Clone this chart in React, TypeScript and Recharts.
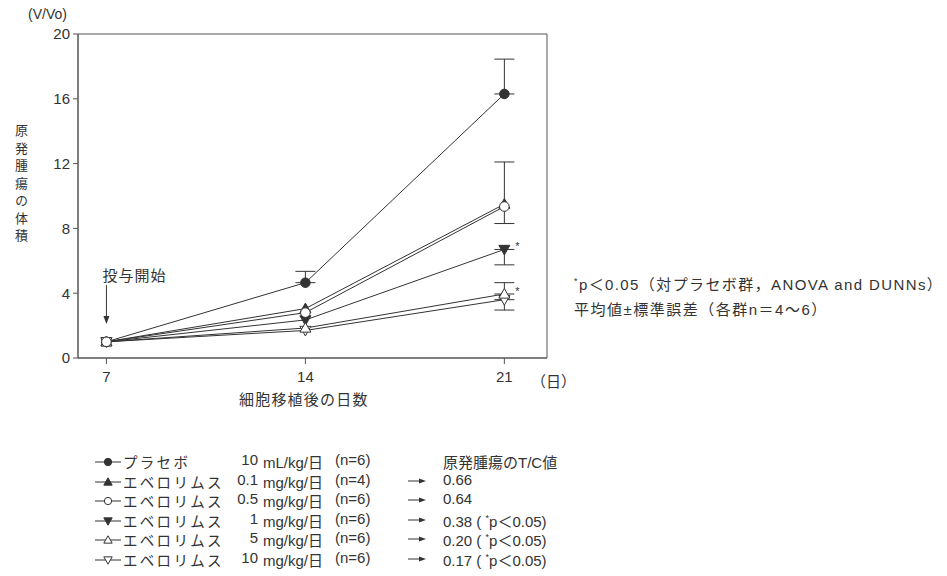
import React from "react";
import { LineChart, Line, XAxis, YAxis, ErrorBar, ReferenceArea, ReferenceLine, ReferenceDot } from "recharts";

const days = [7, 14, 21];
const placebo = [1.0, 4.65, 16.3];
const ever01 = [1.0, 3.05, 9.5];
const ever05 = [1.0, 2.8, 9.35];
const ever1 = [1.0, 2.35, 6.7];
const ever5 = [1.0, 1.85, 3.95];
const ever10 = [1.0, 1.7, 3.6];

// [下側, 上側]
const placeboErr = [undefined, [0, 0.7], [0, 2.15]];
const ever05Err = [undefined, undefined, [1.05, 2.75]];
const ever1Err = [undefined, undefined, [0.95, 0]];
const ever5Err = [undefined, undefined, [0, 0.7]];
const ever10Err = [undefined, undefined, [0.64, 0]];

const yTicks = [0, 4, 8, 12, 16, 20];
const xTicks = [7, 14, 21];

const legendNames = ["プラセボ", "エベロリムス", "エベロリムス", "エベロリムス", "エベロリムス", "エベロリムス"];
const legendAmounts = ["10", "0.1", "0.5", "1", "5", "10"];
const legendUnits = ["mL/kg/日", "mg/kg/日", "mg/kg/日", "mg/kg/日", "mg/kg/日", "mg/kg/日"];
const legendN = ["(n=6)", "(n=4)", "(n=6)", "(n=6)", "(n=6)", "(n=6)"];
const legendTC = ["", "0.66", "0.64", "0.38", "0.20", "0.17"];
const legendSig = [false, false, false, true, true, true];
const legendShapes = ["filledCircle", "filledUp", "openCircle", "filledDown", "openUp", "openDown"];

const data = days.map((d, i) => ({
  day: d,
  placebo: placebo[i], placeboErr: placeboErr[i],
  ever01: ever01[i],
  ever05: ever05[i], ever05Err: ever05Err[i],
  ever1: ever1[i], ever1Err: ever1Err[i],
  ever5: ever5[i], ever5Err: ever5Err[i],
  ever10: ever10[i], ever10Err: ever10Err[i],
}));

const INK = "#333";
const FONT = "'Liberation Sans', 'Noto Sans CJK JP', sans-serif";

function Marker({ cx, cy, shape, s = 5.5 }: { cx: number; cy: number; shape: string; s?: number }) {
  const filled = shape.startsWith("filled");
  const fill = filled ? INK : "#fff";
  if (shape.endsWith("Circle")) {
    return <circle cx={cx} cy={cy} r={s * 0.87} fill={fill} stroke={INK} strokeWidth={1} />;
  }
  const pts = shape.endsWith("Up")
    ? `${cx},${cy - s} ${cx - s},${cy + s * 0.75} ${cx + s},${cy + s * 0.75}`
    : `${cx},${cy + s} ${cx - s},${cy - s * 0.75} ${cx + s},${cy - s * 0.75}`;
  return <polygon points={pts} fill={fill} stroke={INK} strokeWidth={1} />;
}

const dotFor = (shape: string) => (p: any) => (
  <Marker key={`${shape}-${p.index}`} cx={p.cx} cy={p.cy} shape={shape} />
);

function LegendIcon({ shape }: { shape: string }) {
  return (
    <svg width={26} height={14} style={{ display: "block" }}>
      <line x1={0} y1={7} x2={26} y2={7} stroke={INK} strokeWidth={1} />
      <Marker cx={13} cy={7} shape={shape} s={4.2} />
    </svg>
  );
}

function Arrow() {
  return (
    <svg width={18} height={10} style={{ display: "block" }}>
      <line x1={0} y1={5} x2={12} y2={5} stroke={INK} strokeWidth={1} />
      <polygon points="18,5 11,2.5 11,7.5" fill={INK} />
    </svg>
  );
}

const abs = (left: number, top: number, extra: React.CSSProperties = {}): React.CSSProperties => ({
  position: "absolute", left, top, whiteSpace: "nowrap", ...extra,
});

export default function App() {
  return (
    <div style={{ position: "absolute", left: 0, top: 0, width: 947, height: 576, background: "#fff", fontFamily: FONT, color: INK }}>
      <div style={{ position: "absolute", left: 0, top: 0 }}>
        <LineChart width={600} height={420} data={data} margin={{ top: 34, right: 53, bottom: 32, left: 0 }}>
          <ReferenceArea x1={6} x2={22.5} y1={0} y2={20} fill="none" stroke="#555" strokeWidth={1} />
          <XAxis dataKey="day" type="number" domain={[6, 22.5]} ticks={xTicks} height={30}
            tickSize={6} tickMargin={7} stroke="#555"
            tick={{ fontSize: 15, fill: INK, fontFamily: FONT }} />
          <YAxis domain={[0, 20]} ticks={yTicks} width={78} tickSize={5} tickMargin={3} stroke="#555"
            tick={{ fontSize: 15, fill: INK, fontFamily: FONT }} />
          <ReferenceLine segment={[{ x: 7, y: 4.5 }, { x: 7, y: 2.1 }]}
            shape={(p: any) => (
              <g>
                <line x1={p.x1} y1={p.y1} x2={p.x2} y2={p.y2 - 6} stroke={INK} strokeWidth={1} />
                <polygon points={`${p.x2},${p.y2} ${p.x2 - 3},${p.y2 - 8} ${p.x2 + 3},${p.y2 - 8}`} fill={INK} />
                <text x={p.x1 - 4} y={p.y1 - 4} fontSize={15} fill={INK} fontFamily={FONT} letterSpacing={1}>投与開始</text>
              </g>
            )} />
          <Line dataKey="placebo" stroke={INK} strokeWidth={1} dot={dotFor("filledCircle")} isAnimationActive={false}>
            <ErrorBar dataKey="placeboErr" direction="y" width={10} stroke={INK} strokeWidth={1} />
          </Line>
          <Line dataKey="ever01" stroke={INK} strokeWidth={1} dot={dotFor("filledUp")} isAnimationActive={false} />
          <Line dataKey="ever1" stroke={INK} strokeWidth={1} dot={dotFor("filledDown")} isAnimationActive={false}>
            <ErrorBar dataKey="ever1Err" direction="y" width={10} stroke={INK} strokeWidth={1} />
          </Line>
          <Line dataKey="ever10" stroke={INK} strokeWidth={1} dot={dotFor("openDown")} isAnimationActive={false}>
            <ErrorBar dataKey="ever10Err" direction="y" width={10} stroke={INK} strokeWidth={1} />
          </Line>
          <Line dataKey="ever5" stroke={INK} strokeWidth={1} dot={dotFor("openUp")} isAnimationActive={false}>
            <ErrorBar dataKey="ever5Err" direction="y" width={10} stroke={INK} strokeWidth={1} />
          </Line>
          <Line dataKey="ever05" stroke={INK} strokeWidth={1} dot={dotFor("openCircle")} isAnimationActive={false}>
            <ErrorBar dataKey="ever05Err" direction="y" width={10} stroke={INK} strokeWidth={1} />
          </Line>
          <ReferenceDot x={21} y={ever1[2]} r={0}
            shape={(p: any) => <text x={p.cx + 11} y={p.cy + 1} fontSize={11} fill={INK}>*</text>} />
          <ReferenceDot x={21} y={ever5[2]} r={0}
            shape={(p: any) => <text x={p.cx + 11} y={p.cy + 1} fontSize={11} fill={INK}>*</text>} />
        </LineChart>
      </div>

      <div style={abs(28, 6, { fontSize: 14 })}>(V/Vo)</div>
      <div style={abs(11, 124, { fontSize: 13, writingMode: "vertical-rl", letterSpacing: 4.5 })}>原発腫瘍の体積</div>
      <div style={abs(531, 370, { fontSize: 15 })}>（日）</div>
      <div style={abs(239, 388, { fontSize: 15, letterSpacing: 1.2 })}>細胞移植後の日数</div>

      <div style={abs(574, 273, { fontSize: 15, letterSpacing: 1.4 })}>
        <sup style={{ fontSize: 9 }}>*</sup>p＜0.05（対プラセボ群，ANOVA and DUNNs）
      </div>
      <div style={abs(574, 298, { fontSize: 15, letterSpacing: 1.5 })}>平均値±標準誤差（各群n＝4～6）</div>

      <div style={abs(443, 451, { fontSize: 15 })}>原発腫瘍のT/C値</div>
      {legendNames.map((name, i) => {
        const top = 451 + i * 19.5;
        return (
          <React.Fragment key={i}>
            <div style={abs(95, top + 4)}><LegendIcon shape={legendShapes[i]} /></div>
            <div style={abs(123, top, { fontSize: 14.5, letterSpacing: 2.3 })}>{name}</div>
            <div style={abs(206, top, { fontSize: 15, width: 52, textAlign: "right" })}>{legendAmounts[i]}</div>
            <div style={abs(263, top, { fontSize: 15 })}>{legendUnits[i]}</div>
            <div style={abs(335, top, { fontSize: 15 })}>{legendN[i]}</div>
            {legendTC[i] && <div style={abs(408, top + 5)}><Arrow /></div>}
            {legendTC[i] && (
              <div style={abs(443, top, { fontSize: 15 })}>
                {legendTC[i]}
                {legendSig[i] && <> ( <sup style={{ fontSize: 9 }}>*</sup>p＜0.05)</>}
              </div>
            )}
          </React.Fragment>
        );
      })}
    </div>
  );
}
